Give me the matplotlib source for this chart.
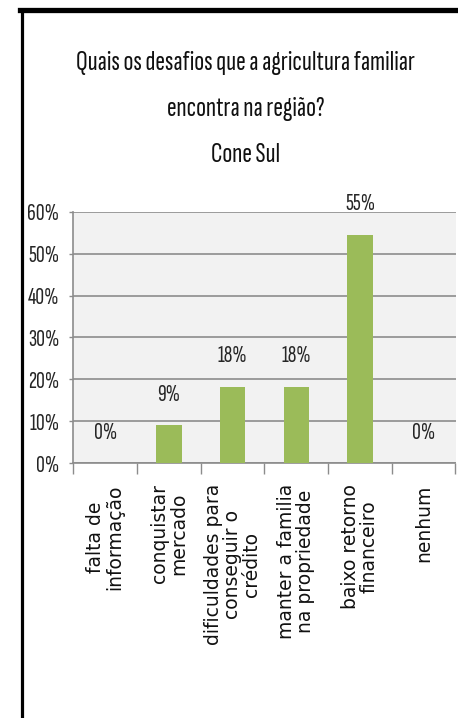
import numpy as np
import matplotlib
import matplotlib.pyplot as plt
from matplotlib.lines import Line2D

matplotlib.use('Agg')

# Data
categories = ["falta de\ninformação", "conquistar\nmercado",
              "dificuldades para\nconseguir o\ncrédito",
              "manter a familia\nna propriedade",
              "baixo retorno\nfinanceiro", "nenhum"]
values = [0.0, 9.1, 18.2, 18.2, 54.5, 0.0]
value_labels = ["0%", "9%", "18%", "18%", "55%", "0%"]
yticks = [0, 10, 20, 30, 40, 50, 60]
title_lines = ["Quais os desafios que a agricultura familiar",
               "encontra na região?", "Cone Sul"]

narrow = ['Sofia Sans Extra Condensed', 'Liberation Sans', 'DejaVu Sans']
W, H = 458, 718

fig = plt.figure(figsize=(W / 100, H / 100), dpi=100)
ax = fig.add_axes([73.3 / W, 1 - 463.3 / H, 382.2 / W, 251.6 / H])

x = np.arange(len(categories))
ax.set_facecolor('#F2F2F2')
ax.bar(x, values, width=0.4, color='#9BBB59', zorder=3)

for xi, v, lab in zip(x, values, value_labels):
    ax.annotate(lab, (xi, v), xytext=(0, 22), textcoords='offset points',
                ha='center', va='center', fontsize=17.5, family=narrow,
                color='#262626')

ax.set_xlim(-0.5, len(categories) - 0.5)
ax.set_ylim(0, 60)
ax.set_yticks(yticks)
ax.set_yticklabels([f"{t}%" for t in yticks], family=narrow, fontsize=17.5,
                   color='#262626')
ax.yaxis.grid(True, color='#8C8C8C', linewidth=1.2, zorder=1)
ax.tick_params(axis='y', length=3, width=1, color='#8C8C8C', pad=7)

# category boundaries as major ticks, labels on minor ticks
ax.set_xticks(np.arange(-0.5, len(categories), 1.0))
ax.set_xticklabels([])
ax.tick_params(axis='x', which='major', length=8, width=1, color='#8C8C8C')
ax.set_xticks(x, minor=True)
ax.set_xticklabels(categories, minor=True, rotation=90, fontsize=13.5,
                   family='DejaVu Sans', linespacing=1.0, color='#111111')
ax.tick_params(axis='x', which='minor', length=0, pad=15)
plt.setp(ax.get_xticklabels(minor=True), multialignment='center')

for side in ['top', 'right']:
    ax.spines[side].set_visible(False)
ax.spines['left'].set_color('#8C8C8C')
ax.spines['bottom'].set_color('#8C8C8C')
ax.spines['left'].set_linewidth(1.2)
ax.spines['bottom'].set_linewidth(1.2)

# title lines
for i, line in enumerate(title_lines):
    fig.text(246 / W, 1 - (63 + 46 * i) / H, line, ha='center', va='center',
             fontsize=21, family=narrow, color='#111111')

# outer frame (only left and top visible in the crop)
fig.add_artist(Line2D([21.5 / W, 21.5 / W], [0, 1 - 9.5 / H],
                      color='black', linewidth=2.3, transform=fig.transFigure))
fig.add_artist(Line2D([20 / W, 1], [1 - 9.5 / H, 1 - 9.5 / H],
                      color='black', linewidth=3.8, transform=fig.transFigure))

fig.savefig('out.png', dpi=100)
